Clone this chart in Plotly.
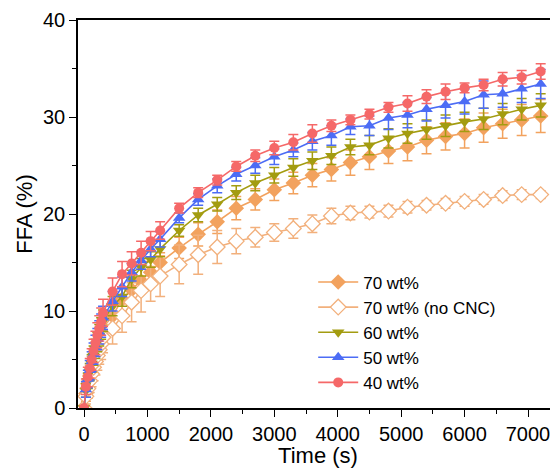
import plotly.graph_objects as go

time_s = [0, 30, 60, 90, 120, 150, 180, 210, 240, 270, 300,
          450, 600, 750, 900, 1050, 1200,
          1500, 1800, 2100, 2400, 2700, 3000, 3300, 3600, 3900, 4200,
          4500, 4800, 5100, 5400, 5700, 6000, 6300, 6600, 6900, 7200]

ffa_70 = [0, 1.5, 2.5, 3.3, 4.1, 4.8, 5.5, 6.2, 6.9, 7.6, 8.3,
          9.5, 11.2, 12.2, 13.1, 14.0, 15.0,
          16.5, 17.9, 19.2, 20.6, 21.5, 22.5, 23.2, 24.0, 24.6, 25.3,
          25.9, 26.5, 26.9, 27.6, 28.0, 28.3, 28.9, 29.3, 29.7, 30.1]
err_70 = [0, 0.8, 1.0, 1.1, 1.2, 1.2, 1.3, 1.3, 1.4, 1.4, 1.5,
          1.4, 1.3, 1.2, 1.2, 1.1, 1.0,
          1.1, 1.2, 1.2, 1.2, 1.1, 1.1, 1.1, 1.2, 1.2, 1.3,
          1.3, 1.3, 1.4, 1.4, 1.4, 1.5, 1.5, 1.5, 1.6, 1.7]

ffa_70_nocnc = [0, 1.2, 2.0, 2.8, 3.5, 4.2, 4.8, 5.4, 6.0, 6.6, 7.3,
                8.2, 9.5, 10.9, 12.1, 12.8, 13.6,
                14.8, 15.8, 16.6, 17.2, 17.6, 18.1, 18.5, 19.0, 19.8, 20.1,
                20.2, 20.3, 20.7, 20.9, 21.1, 21.3, 21.5, 21.9, 22.0, 22.0]
err_70_nocnc = [0, 0.8, 1.0, 1.2, 1.3, 1.4, 1.4, 1.5, 1.5, 1.6, 1.6,
                1.6, 1.7, 2.0, 2.2, 1.8, 2.1,
                2.0, 2.0, 1.7, 1.3, 1.0, 0.9, 1.0, 0.9, 0.8, 0.7,
                0.6, 0.6, 0.6, 0.5, 0.5, 0.5, 0.5, 0.5, 0.5, 0.4]

ffa_60 = [0, 1.8, 2.8, 3.7, 4.6, 5.4, 6.1, 6.8, 7.5, 8.2, 9.0,
          10.5, 11.5, 13.3, 14.5, 15.3, 16.4,
          18.3, 19.9, 21.0, 22.2, 23.2, 24.0, 24.8, 25.5, 26.0, 26.9,
          27.1, 27.8, 28.3, 28.7, 29.1, 29.5, 29.8, 30.3, 30.8, 31.2]
err_60 = [0, 0.7, 0.8, 0.9, 0.9, 1.0, 1.0, 1.0, 1.1, 1.1, 1.1,
          1.0, 1.0, 0.9, 0.9, 0.8, 0.8,
          0.6, 0.7, 0.7, 0.7, 0.8, 0.8, 0.9, 0.9, 0.9, 0.8,
          1.0, 1.0, 1.0, 1.0, 1.1, 1.0, 1.1, 1.1, 1.1, 1.2]

ffa_50 = [0, 1.9, 3.0, 3.9, 4.8, 5.6, 6.4, 7.1, 7.8, 8.5, 9.3,
          11.0, 12.5, 14.0, 15.2, 16.4, 17.4,
          19.6, 21.5, 22.9, 24.1, 25.0, 25.9, 26.6, 27.5, 28.1, 29.0,
          29.1, 29.9, 30.2, 30.8, 31.2, 31.6, 32.3, 32.4, 32.9, 33.4]
err_50 = [0, 0.8, 0.9, 1.0, 1.0, 1.1, 1.1, 1.1, 1.2, 1.2, 1.2,
          1.0, 1.0, 0.9, 0.9, 0.8, 0.8,
          0.5, 0.6, 0.7, 0.7, 0.8, 0.8, 0.7, 0.9, 1.0, 0.8,
          1.0, 1.2, 1.3, 1.2, 1.3, 1.3, 1.4, 1.4, 1.4, 1.5]

ffa_40 = [0, 2.2, 3.2, 4.1, 5.0, 5.9, 6.7, 7.5, 8.2, 8.9, 9.8,
          12.0, 13.8, 14.9, 16.0, 17.2, 18.3,
          20.6, 22.2, 23.5, 24.9, 26.0, 26.8, 27.4, 28.3, 29.1, 29.7,
          30.3, 31.0, 31.4, 32.1, 32.6, 33.0, 33.3, 33.9, 34.1, 34.7]
err_40 = [0, 0.8, 1.0, 1.0, 1.1, 1.2, 1.2, 1.3, 1.3, 1.4, 1.4,
          1.4, 1.3, 1.2, 1.2, 1.0, 0.9,
          0.5, 0.5, 0.5, 0.5, 0.6, 0.7, 0.8, 0.9, 0.6, 0.5,
          0.5, 0.5, 0.8, 0.7, 0.8, 0.5, 0.6, 0.7, 0.7, 0.8]

series = [
    ("70 wt%", ffa_70, err_70, "#F2A25E", "diamond", 12),
    ("70 wt% (no CNC)", ffa_70_nocnc, err_70_nocnc, "#F2B07C", "diamond-open", 12),
    ("60 wt%", ffa_60, err_60, "#A39C10", "triangle-down", 11),
    ("50 wt%", ffa_50, err_50, "#4C6CF5", "triangle-up", 11),
    ("40 wt%", ffa_40, err_40, "#F56868", "circle", 10),
]

fig = go.Figure()
for name, y, e, col, sym, size in series:
    if sym == "diamond-open":
        marker = dict(symbol="diamond", size=size, color="white",
                      line=dict(color=col, width=1.3))
    else:
        marker = dict(symbol=sym, size=size, color=col)
    fig.add_trace(go.Scatter(
        x=time_s, y=y, name=name, mode="lines+markers",
        line=dict(color=col, width=1.6),
        marker=marker,
        error_y=dict(type="data", array=e, visible=True, color=col,
                     thickness=1.5, width=5),
    ))

# page body adds an 8px offset; size/margins compensate
fig.update_layout(
    width=550, height=460,
    margin=dict(l=70, r=0, t=12, b=60),
    paper_bgcolor="white", plot_bgcolor="white",
    font=dict(family="Liberation Sans, Arial, sans-serif", color="black"),
    showlegend=True,
    legend=dict(x=0.49, y=0.37, xanchor="left", yanchor="top",
                bgcolor="rgba(0,0,0,0)", font=dict(size=17),
                tracegroupgap=0, itemwidth=40),
)
fig.update_xaxes(
    range=[-95, 7473], showgrid=False, zeroline=False,
    showline=True, linecolor="black", linewidth=1.5, mirror=True,
    ticks="outside", ticklen=7, tickwidth=1.3, tickcolor="black",
    tick0=0, dtick=1000, tickfont=dict(size=20),
    minor=dict(ticks="outside", ticklen=4, tickwidth=1.3, tickcolor="black", dtick=500, tick0=0),
    title=dict(text="Time (s)", font=dict(size=22), standoff=0),
)
fig.update_yaxes(
    range=[0, 40], showgrid=False, zeroline=False,
    showline=True, linecolor="black", linewidth=1.5,
    ticks="outside", ticklen=7, tickwidth=1.3, tickcolor="black",
    tick0=0, dtick=10, tickfont=dict(size=20),
    minor=dict(ticks="outside", ticklen=4, tickwidth=1.3, tickcolor="black", dtick=5, tick0=0),
    title=dict(text="FFA (%)", font=dict(size=22), standoff=4),
)

fig.write_html("out.html")
